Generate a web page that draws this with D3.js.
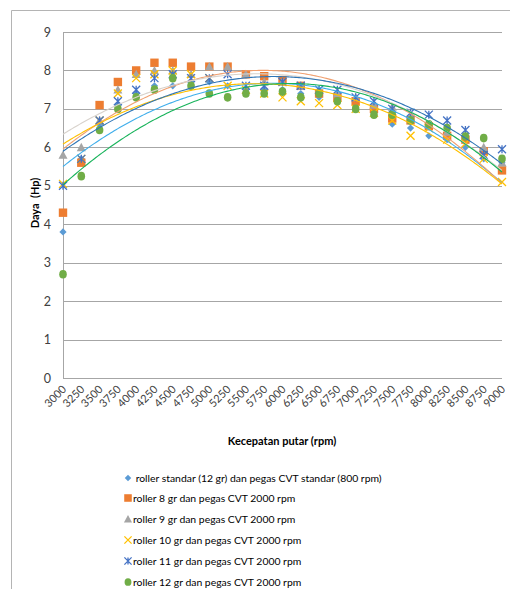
<!DOCTYPE html>
<html>
<head>
<meta charset="utf-8">
<script src="https://cdn.jsdelivr.net/npm/d3@7"></script>
<style>
  html, body { margin: 0; padding: 0; background: #fff; }
  svg { display: block; }
  text { font-family: "Lato", "Liberation Sans", sans-serif; }
</style>
</head>
<body>
<svg id="chart" width="510" height="589"></svg>
<script>
// Engine speed categories (rpm)
const categories = ["3000","3250","3500","3750","4000","4250","4500","4750","5000","5250","5500","5750","6000","6250","6500","6750","7000","7250","7500","7750","8000","8250","8500","8750","9000"];
const yTicks = [0,1,2,3,4,5,6,7,8,9];

// Power (Hp) per configuration
const standar  = [3.8,5.7,6.6,7.1,7.4,7.6,7.6,7.7,7.7,7.6,7.5,7.5,7.5,7.4,7.3,7.2,7.1,6.9,6.6,6.5,6.3,6.2,6.0,5.7,5.6];
const roller8  = [4.3,5.6,7.1,7.7,8.0,8.2,8.2,8.1,8.1,8.1,7.9,7.85,7.75,7.6,7.4,7.3,7.2,7.0,6.75,6.7,6.55,6.3,6.2,5.9,5.4];
const roller9  = [5.8,6.0,6.7,7.5,7.9,8.0,8.0,7.9,8.1,8.1,7.9,7.7,7.7,7.6,7.5,7.4,7.3,7.1,7.05,6.8,6.6,6.4,6.3,6.0,5.6];
const roller10 = [5.05,5.7,6.7,7.4,7.8,7.9,8.0,7.9,7.8,7.6,7.5,7.4,7.3,7.2,7.15,7.1,7.0,6.9,6.7,6.3,6.5,6.2,6.1,5.7,5.1];
const roller11 = [5.0,5.7,6.7,7.2,7.5,7.8,7.9,7.8,7.8,7.9,7.6,7.6,7.7,7.6,7.5,7.5,7.3,7.2,7.0,6.9,6.85,6.7,6.45,5.8,5.95];
const roller12 = [2.7,5.25,6.45,7.0,7.3,7.5,7.8,7.6,7.4,7.3,7.4,7.4,7.45,7.3,7.4,7.2,7.0,6.85,6.85,6.7,6.6,6.5,6.28,6.24,5.7];

const seriesNames = [
  " roller standar (12 gr) dan pegas CVT standar (800 rpm)",
  "roller 8 gr dan pegas CVT 2000 rpm",
  "roller 9 gr dan pegas CVT 2000 rpm",
  "roller 10 gr dan pegas CVT 2000 rpm",
  "roller 11 gr dan pegas CVT 2000 rpm",
  "roller 12 gr dan pegas CVT 2000 rpm"
];
const seriesValues = [standar, roller8, roller9, roller10, roller11, roller12];
const markerColors = ["#5B9BD5","#ED7D31","#A5A5A5","#FFC000","#4472C4","#70AD47"];
const trendColors  = ["#3FAEEB","#F0A070","#D8D2CC","#FFC000","#2E75B6","#17B35A"];
const markerKinds  = ["diamond","square","triangle","x","star","circle"];
const trendOrder = 2;

const svg = d3.select("#chart");

// chart area border (left and top edges)
svg.append("path")
  .attr("d", "M11.5,589 L11.5,10.5 L510,10.5")
  .attr("fill", "none").attr("stroke", "#b4b4b4").attr("stroke-width", 1);

const plotLeft = 63, plotRight = 502, plotTop = 32, plotBottom = 378;
const x = d3.scalePoint().domain(categories).range([plotLeft, plotRight]);
const xi = d3.scaleLinear().domain([0, categories.length - 1]).range([plotLeft, plotRight]);
const y = d3.scaleLinear().domain([0, 9]).range([plotBottom, plotTop]);

// horizontal gridlines
svg.append("g").selectAll("line").data(yTicks.filter(d => d > 0)).join("line")
  .attr("x1", plotLeft).attr("x2", plotRight)
  .attr("y1", d => Math.round(y(d)) + 0.5).attr("y2", d => Math.round(y(d)) + 0.5)
  .attr("stroke", "#a6a6a6").attr("stroke-width", 1);

// axes lines
svg.append("line").attr("x1", plotLeft).attr("x2", plotRight)
  .attr("y1", Math.round(y(0)) + 0.5).attr("y2", Math.round(y(0)) + 0.5)
  .attr("stroke", "#a6a6a6");
svg.append("line").attr("x1", plotLeft + 0.5).attr("x2", plotLeft + 0.5)
  .attr("y1", plotTop).attr("y2", plotBottom)
  .attr("stroke", "#a6a6a6");

// y tick labels
svg.append("g").selectAll("text").data(yTicks).join("text")
  .attr("x", 51).attr("y", d => y(d) + 4.5)
  .attr("text-anchor", "end")
  .attr("font-size", 12.5).attr("fill", "#404040")
  .text(d => d);

// x tick labels (rotated)
svg.append("g").selectAll("text").data(categories).join("text")
  .attr("transform", d => `translate(${x(d) + 4},${plotBottom + 12}) rotate(-45)`)
  .attr("text-anchor", "end")
  .attr("font-size", 11).attr("fill", "#404040")
  .text(d => d);

// axis titles
svg.append("text")
  .attr("x", 282).attr("y", 445)
  .attr("text-anchor", "middle")
  .attr("font-size", 11).attr("font-weight", "bold").attr("fill", "#000")
  .text("Kecepatan putar (rpm)");
svg.append("text")
  .attr("transform", "translate(39,203) rotate(-90)")
  .attr("text-anchor", "middle")
  .attr("font-size", 11).attr("font-weight", "bold").attr("fill", "#000")
  .attr("xml:space", "preserve")
  .text("Daya  (Hp)");

// marker shapes
function drawMarker(g, kind, color, cx, cy, scale) {
  const s = scale || 1;
  if (kind === "diamond") {
    const r = 3.6 * s;
    g.append("path").attr("d", `M${cx},${cy - r} L${cx + r},${cy} L${cx},${cy + r} L${cx - r},${cy} Z`).attr("fill", color);
  } else if (kind === "square") {
    const r = 4.2 * s;
    g.append("rect").attr("x", cx - r).attr("y", cy - r).attr("width", 2 * r).attr("height", 2 * r).attr("fill", color);
  } else if (kind === "triangle") {
    const r = 4.5 * s;
    g.append("path").attr("d", `M${cx},${cy - r} L${cx + r},${cy + r * 0.85} L${cx - r},${cy + r * 0.85} Z`).attr("fill", color);
  } else if (kind === "x") {
    const r = 4 * s;
    g.append("path").attr("d", `M${cx - r},${cy - r} L${cx + r},${cy + r} M${cx - r},${cy + r} L${cx + r},${cy - r}`)
      .attr("stroke", color).attr("stroke-width", 1.3).attr("fill", "none");
  } else if (kind === "star") {
    const r = 4 * s;
    g.append("path").attr("d", `M${cx - r},${cy - r} L${cx + r},${cy + r} M${cx - r},${cy + r} L${cx + r},${cy - r} M${cx},${cy - r} L${cx},${cy + r}`)
      .attr("stroke", color).attr("stroke-width", 1.3).attr("fill", "none");
  } else if (kind === "circle") {
    g.append("ellipse").attr("cx", cx).attr("cy", cy).attr("rx", 3.8 * s).attr("ry", 4.3 * s).attr("fill", color);
  }
}

// data markers
seriesValues.forEach((vals, k) => {
  const g = svg.append("g");
  vals.forEach((v, i) => drawMarker(g, markerKinds[k], markerColors[k], x(categories[i]), y(v)));
});

// polynomial trendline (least squares on category number 1..n)
function polyFit(vals, order) {
  const m = order + 1;
  const A = Array.from({length: m}, () => new Array(m + 1).fill(0));
  vals.forEach((v, i) => {
    const t = (i + 1) / 10;
    for (let r = 0; r < m; r++) {
      for (let c = 0; c < m; c++) A[r][c] += Math.pow(t, r + c);
      A[r][m] += Math.pow(t, r) * v;
    }
  });
  for (let c = 0; c < m; c++) {
    for (let r = c + 1; r < m; r++) {
      const f = A[r][c] / A[c][c];
      for (let k = c; k <= m; k++) A[r][k] -= f * A[c][k];
    }
  }
  const b = new Array(m).fill(0);
  for (let r = m - 1; r >= 0; r--) {
    let s = A[r][m];
    for (let k = r + 1; k < m; k++) s -= A[r][k] * b[k];
    b[r] = s / A[r][r];
  }
  return i => { const t = (i + 1) / 10; return b.reduce((acc, bk, k) => acc + bk * Math.pow(t, k), 0); };
}

const line = d3.line().x(d => xi(d[0])).y(d => y(d[1]));
seriesValues.forEach((vals, k) => {
  const f = polyFit(vals, trendOrder);
  const pts = d3.range(0, categories.length - 1 + 0.001, 0.1).map(t => [t, f(t)]);
  svg.append("path").attr("d", line(pts))
    .attr("fill", "none").attr("stroke", trendColors[k]).attr("stroke-width", 1.1);
});

// legend
const legendY = [478, 498, 519, 540, 561, 582];
seriesNames.forEach((name, k) => {
  const g = svg.append("g");
  drawMarker(g, markerKinds[k], markerColors[k], 128, legendY[k], 0.9);
  g.append("text")
    .attr("x", 133).attr("y", legendY[k] + 4)
    .attr("font-size", 10.4).attr("fill", "#000")
    .attr("xml:space", "preserve")
    .text(name);
});
</script>
</body>
</html>
